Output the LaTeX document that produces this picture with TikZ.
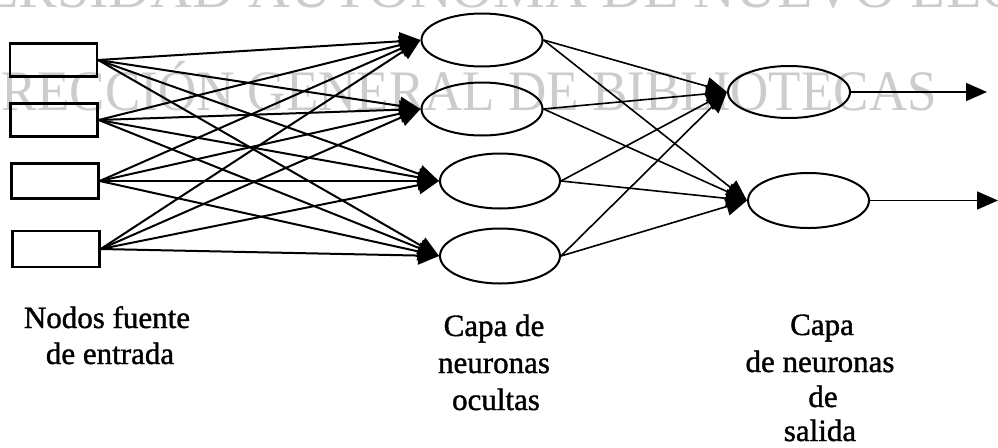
\documentclass[tikz,border=0pt]{standalone}
\usepackage{fontspec}
\setmainfont{Liberation Serif}
\newfontfamily\labfont[FakeBold=1.2]{Liberation Serif}
\usetikzlibrary{arrows.meta,shapes.geometric}
\begin{document}
\begin{tikzpicture}[x=1pt,y=-1pt,
  inbox/.style={draw,line width=2.4pt,rectangle,inner sep=0pt,minimum width=87pt,minimum height=33pt},
  neuron/.style={draw,line width=2pt,ellipse,inner sep=0pt,minimum width=121pt,minimum height=54pt},
  link/.style={line width=2pt,-{Triangle[length=21pt,width=18pt]}},
  olink/.style={line width=1.6pt,-{Triangle[length=21pt,width=18pt]}},
  lab/.style={font=\labfont\fontsize{31}{36}\selectfont,anchor=base,inner sep=0pt},
  wm/.style={text=black!20,inner sep=0pt}]
\useasboundingbox (0,0) rectangle (998,447);
\clip (0,0) rectangle (998,447);
% watermark
\node[wm,anchor=base west,font=\fontsize{58}{60}\selectfont] (wmtop) at (-162,7) {UNIVERSIDAD AUTÓNOMA DE NUEVO LEÓN};
\node[wm,anchor=base east,font=\fontsize{53}{56}\selectfont] (wmmid) at (937,110) {\scalebox{1}[1.08]{DIRECCIÓN GENERAL DE BIBLIOTECAS}};
% input nodes
\node[inbox] (i1) at (53.5,60) {};
\node[inbox] (i2) at (54,120) {};
\node[inbox,minimum height=35pt] (i3) at (55,181) {};
\node[inbox,minimum height=36pt] (i4) at (56,249) {};
% hidden nodes
\node[neuron,minimum height=53pt] (h1) at (482,40) {};
\node[neuron,minimum height=53pt] (h2) at (482,109) {};
\node[neuron,minimum width=120pt,minimum height=55pt] (h3) at (500,181) {};
\node[neuron,minimum width=120pt,minimum height=55pt] (h4) at (500,256) {};
% output nodes
\node[neuron,minimum width=122pt,minimum height=52pt] (o1) at (789,92) {};
\node[neuron,minimum height=55pt] (o2) at (808.5,200.5) {};
\coordinate (e1) at (987,92);
\coordinate (e2) at (998,200.5);
% connections
\foreach \i in {i1,i2,i3,i4}{
  \foreach \h in {h1,h2,h3,h4}{
    \draw[link] (\i.east) -- (\h.west);
  }
}
\foreach \h in {h1,h2,h3,h4}{
  \foreach \o in {o1,o2}{
    \draw[olink] (\h.east) -- (\o.west);
  }
}
\draw[olink] (o1.east) -- (e1);
\draw[olink] (o2.east) -- (e2);
% labels
\node[lab] (l1a) at (107,328) {Nodos fuente};
\node[lab] (l1b) at (110,364) {de entrada};
\node[lab] (l2a) at (494,336) {Capa de};
\node[lab] (l2b) at (494,373) {neuronas};
\node[lab] (l2c) at (496,410) {ocultas};
\node[lab] (l3a) at (822,335) {Capa};
\node[lab] (l3b) at (820,372) {de neuronas};
\node[lab] (l3c) at (823,407) {de};
\node[lab] (l3d) at (820,441) {salida};
\end{tikzpicture}
\end{document}
